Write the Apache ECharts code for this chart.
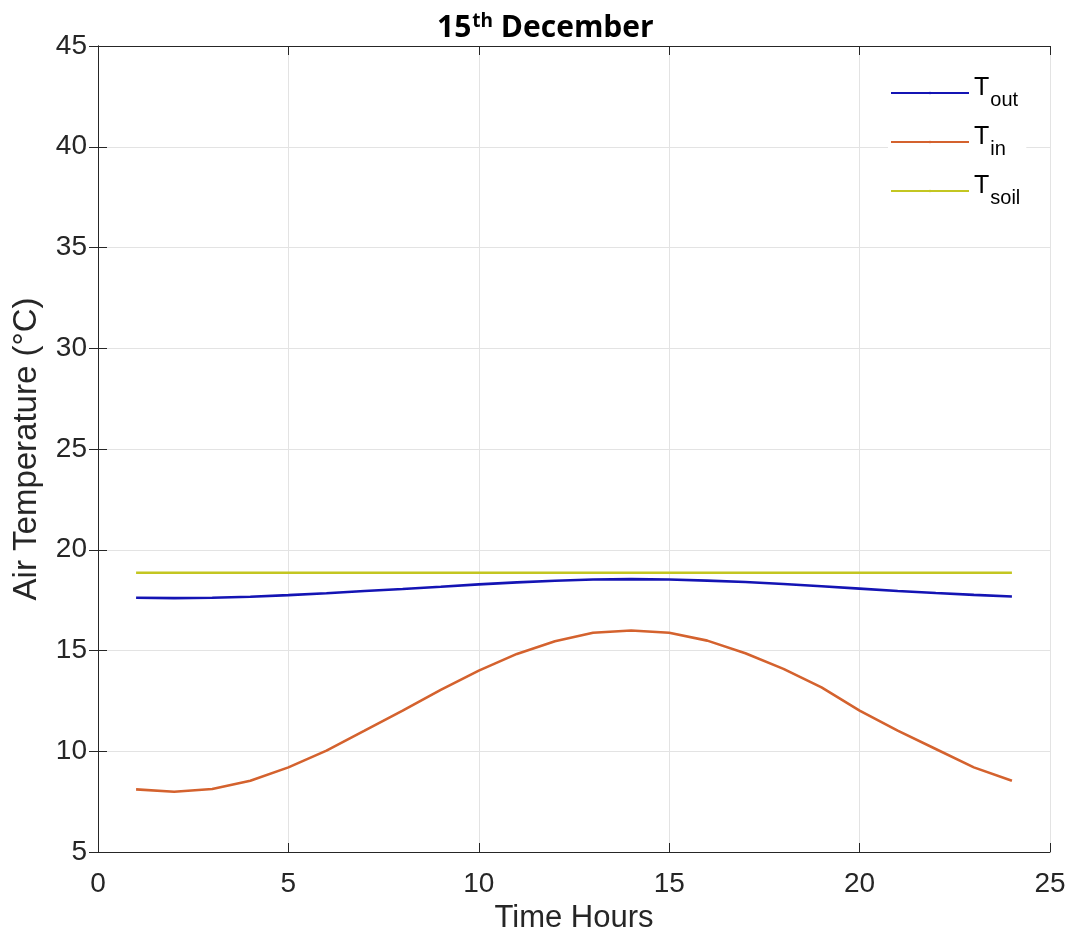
<!DOCTYPE html>
<html>
<head>
<meta charset="utf-8">
<script src="https://cdn.jsdelivr.net/npm/echarts@6/dist/echarts.min.js"></script>
<style>html,body{margin:0;padding:0;background:#fff}#c{width:1070px;height:941px}</style>
</head>
<body>
<div id="c"></div>
<script>
const hours = [1,2,3,4,5,6,7,8,9,10,11,12,13,14,15,16,17,18,19,20,21,22,23,24];
const tOut = [17.62,17.60,17.62,17.67,17.75,17.84,17.95,18.05,18.16,18.28,18.38,18.46,18.52,18.54,18.52,18.47,18.40,18.30,18.19,18.07,17.95,17.85,17.76,17.68];
const tIn = [8.11,7.99,8.13,8.54,9.20,10.03,11.02,12.02,13.05,14.00,14.83,15.46,15.88,15.99,15.88,15.49,14.86,14.09,13.17,12.02,11.02,10.11,9.20,8.54];
const tSoil = [18.86,18.86,18.86,18.86,18.86,18.86,18.86,18.86,18.86,18.86,18.86,18.86,18.86,18.86,18.86,18.86,18.86,18.86,18.86,18.86,18.86,18.86,18.86,18.86];
const seriesNames = ['T_out','T_in','T_soil'];
const xTicks = {min:0,max:25,interval:5};
const yTicks = {min:5,max:45,interval:5};

const font = '"Liberation Sans", Arial, sans-serif';
const tfont = '"Open Sans", Lato, sans-serif';
const axisCol = '#262626';
const zip = (xs, ys) => xs.map((x,i)=>[x, ys[i]]);

const chart = echarts.init(document.getElementById('c'), null, {renderer:'canvas'});
const baseAxis = {
  axisLine:{show:true,lineStyle:{color:axisCol,width:1}},
  axisTick:{show:true,inside:true,length:9,lineStyle:{color:axisCol}},
};
chart.setOption({
  animation:false,
  backgroundColor:'#fff',
  title:{
    text:'{a|15}{b|th}{c| December}',
    left:432, top:7,
    textStyle:{
      rich:{
        a:{fontFamily:tfont,fontWeight:'bold',fontSize:30,color:'#000'},
        b:{fontFamily:tfont,fontWeight:'bold',fontSize:19,color:'#000',verticalAlign:'top',padding:[0,0,13,1]},
        c:{fontFamily:tfont,fontWeight:'bold',fontSize:30,color:'#000'}
      }
    }
  },
  grid:{left:98,right:20,top:46,bottom:89,show:false},
  legend:{
    orient:'vertical',
    left:888, top:68,
    itemWidth:78, itemHeight:3, itemGap:9,
    backgroundColor:'#fff',
    padding:[2,6,2,2],
    data:seriesNames,
    formatter:function(n){ const p=n.split('_'); return '{t|'+p[0]+'}{s|'+p[1]+'}'; },
    textStyle:{
      rich:{
        t:{fontFamily:font,fontSize:25,color:'#000',lineHeight:34,verticalAlign:'top'},
        s:{fontFamily:font,fontSize:20,color:'#000',lineHeight:34,verticalAlign:'bottom',padding:[20,0,0,1]}
      }
    }
  },
  xAxis:[
    Object.assign({type:'value',position:'bottom',min:xTicks.min,max:xTicks.max,interval:xTicks.interval,
      name:'Time Hours',nameLocation:'middle',nameGap:50,
      nameTextStyle:{fontFamily:font,fontSize:31,color:axisCol},
      axisLabel:{fontFamily:font,fontSize:28,color:axisCol,margin:18},
      splitLine:{show:true,lineStyle:{color:'#e3e3e3',width:1}}}, baseAxis),
    Object.assign({type:'value',position:'top',min:xTicks.min,max:xTicks.max,interval:xTicks.interval,
      axisLabel:{show:false},splitLine:{show:false}}, baseAxis)
  ],
  yAxis:[
    Object.assign({type:'value',position:'left',min:yTicks.min,max:yTicks.max,interval:yTicks.interval,
      name:'Air Temperature (°C)',nameLocation:'middle',nameGap:55,
      nameTextStyle:{fontFamily:font,fontSize:33,color:axisCol},
      axisLabel:{fontFamily:font,fontSize:28,color:axisCol,margin:11},
      splitLine:{show:true,lineStyle:{color:'#e3e3e3',width:1}}}, baseAxis),
    Object.assign({type:'value',position:'right',min:yTicks.min,max:yTicks.max,interval:yTicks.interval,
      axisLabel:{show:false},splitLine:{show:false}}, baseAxis)
  ],
  series:[
    {name:seriesNames[0],type:'line',data:zip(hours,tOut),symbol:'none',smooth:false,
      lineStyle:{color:'#1414b4',width:2.6},itemStyle:{color:'#1414b4'}},
    {name:seriesNames[1],type:'line',data:zip(hours,tIn),symbol:'none',smooth:false,
      lineStyle:{color:'#d4622e',width:2.6},itemStyle:{color:'#d4622e'}},
    {name:seriesNames[2],type:'line',data:zip(hours,tSoil),symbol:'none',smooth:false,
      lineStyle:{color:'#c3c621',width:2.6},itemStyle:{color:'#c3c621'}}
  ]
});
</script>
</body>
</html>
